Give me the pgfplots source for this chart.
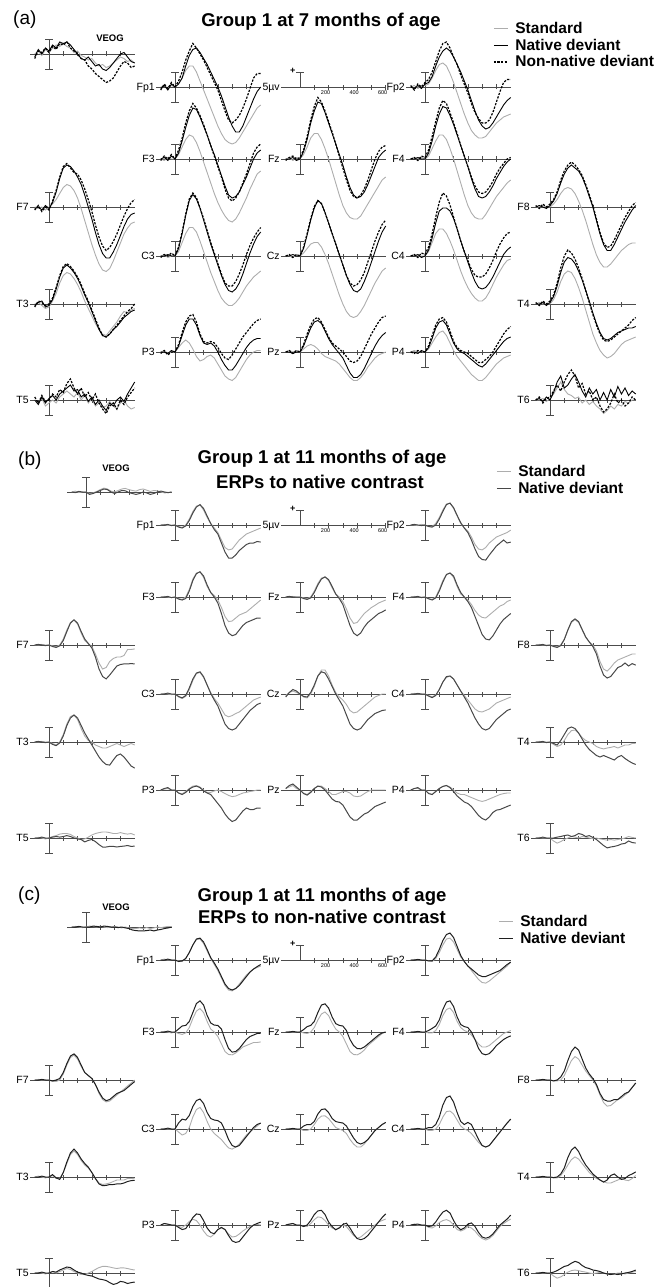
\documentclass[border=0pt]{standalone}
\usepackage{fontspec}
\setmainfont{Liberation Sans}
\usepackage{pgfplots}
\pgfplotsset{compat=1.18}
\usepackage{pgfplotstable}

\definecolor{axcol}{gray}{0.3}
\definecolor{stdcol}{gray}{0.68}
\definecolor{natb}{gray}{0.28}
\definecolor{natc}{gray}{0.12}

\newcommand{\elfont}{\fontsize{10.5}{12}\selectfont}
\newcommand{\legfont}{\fontsize{15.5}{17}\selectfont\bfseries}
\newcommand{\ttlfont}{\fontsize{18.5}{21}\selectfont\bfseries}

\pgfplotsset{
 erp/.style={scale only axis, x=0.142857pt, y=3pt, xmin=-130, xmax=600, ymin=-5, ymax=5,
   enlargelimits=false, axis x line=middle, axis y line=none, ytick=\empty,
   axis line style={-}, x axis line style={-, axcol, line width=0.8pt},
   xtick={100,200,300,400,500}, xticklabels={}, major tick length=5pt, tick align=center,
   tick style={axcol, line width=0.7pt}, clip=false, anchor=south west, no markers},
 legend image code/.code={\draw[#1] (0pt,0pt) -- (14pt,0pt); \path (19pt,0pt);},
}
\tikzset{lab/.style={anchor=base east, font=\elfont, inner sep=1.5pt, yshift=-3.7pt}}

\newcommand{\mktab}[2]{%
 \pgfplotstableread[row sep=\\]{name c0 c1 c2 c3 c4 c5 c6 c7 c8 c9 c10 c11 c12 c13 c14 c15 c16 c17 c18 c19 c20 c21 c22 c23 c24 c25 c26 c27 c28\\
 t -100 -75 -50 -25 0 25 50 75 100 125 150 175 200 225 250 275 300 325 350 375 400 425 450 475 500 525 550 575 600\\
 #2\\}\tmpraw
 \pgfplotstabletranspose[colnames from=name]{#1}{\tmpraw}}

\newcommand{\scalebar}{%
 \addplot[axcol, line width=0.8pt, forget plot] coordinates {(0,-5) (0,5)};
 \addplot[axcol, line width=0.8pt, forget plot] coordinates {(-25,5) (25,5)};
 \addplot[axcol, line width=0.8pt, forget plot] coordinates {(-25,-5) (25,-5)};}

\newcommand{\erpA}[4]{%
 \begin{axis}[erp, at={({#1pt-18.5714pt},{-#2pt-15pt})}]
 \scalebar
 \addplot[stdcol, line width=0.9pt] table[x=t,y=s]{#4};
 \addplot[black, line width=0.9pt] table[x=t,y=n]{#4};
 \addplot[black, line width=1.2pt, dash pattern=on 2.2pt off 1.4pt] table[x=t,y=d]{#4};
 \node[lab] at (axis cs:-130,0) {#3};
 \end{axis}}

\newcommand{\erpB}[5]{%
 \begin{axis}[erp, at={({#1pt-18.5714pt},{-#2pt-15pt})}]
 \scalebar
 \addplot[stdcol, line width=0.9pt] table[x=t,y=s]{#4};
 \addplot[#5, line width=1pt] table[x=t,y=n]{#4};
 \node[lab] at (axis cs:-130,0) {#3};
 \end{axis}}

\newcommand{\calib}[2]{%
 \begin{axis}[erp, at={({#1pt-18.5714pt},{-#2pt-15pt})}, xtick={100,200,300,400,500,600},
   xticklabels={,200,,400,,600}, xticklabel style={font=\fontsize{5.5}{6}\selectfont, inner sep=1pt, xshift=-3pt}]
 \addplot[axcol, line width=0.8pt] coordinates {(0,0) (0,5)};
 \addplot[axcol, line width=0.8pt] coordinates {(-25,5) (25,5)};
 \node[lab] at (axis cs:-130,0) {5µv};
 \node[font=\bfseries\fontsize{9}{9}\selectfont, inner sep=0pt] at (axis cs:-50,5.4) {+};
 \end{axis}}

% ---------------- panel (a) data: s = standard, n = native deviant, d = non-native deviant
\mktab{\tAVEOG}{s 0 1 -0.5 1.5 0.5 2 3 2.5 3.5 2.5 2 0.5 1 -0.5 -1 -2 -1.5 -3 -4 -3.5 -4.5 -4 -3 -2 -1 -1.5 -2.5 -2 -3\\
n -1 1.5 0 2 1 3 2 4 3.5 4 3 1.5 0 -1.5 -2 -1 -2.5 -4 -3.5 -5 -5.5 -4.5 -3 -1.5 0 0.5 -1 -2.5 -3\\
d -1.5 1 0.5 2 0.5 2.5 1.5 3.5 3 4 2 1 0 -1.5 -2 -4 -5 -6.5 -7.5 -8.5 -9.5 -9 -8 -6 -4 -2.5 -3 -4.5 -4}
\mktab{\tAFpone}{s 0 0.5 -0.5 0.5 0 1 3 5.5 7 7 5 2 -1 -4 -7 -10 -13 -15.5 -17.5 -18.5 -19 -18.5 -17 -15 -13 -11 -9 -7 -6\\
n -0.5 0.5 -1 1 0 1 3 7 10.5 12.5 13 11.5 9.5 7.5 5 2.5 0 -3 -6.5 -10 -13 -15 -15 -13 -10 -7 -4 -1.5 0\\
d -1 1 -0.5 1.5 0 2 5 9 12 14.5 13 11 9 6.5 4 1.5 -1 -4.5 -8 -11 -12 -11 -9.5 -7 -4 -0.5 3 4.5 4.5}
\mktab{\tAFptwo}{s 0 0.5 -0.5 0.5 0.5 1 3 5.5 7.5 8 7 4.5 1.5 -2 -5.5 -9 -12 -14.5 -16 -17 -17 -16.5 -15 -13.5 -12 -11 -10 -9.5 -9\\
n 0 -0.5 0.5 -0.5 1 1.5 3.5 7 10 12 13 12 10 7.5 5 2 -1 -4.5 -8 -11 -13 -14 -13.5 -12 -10 -8 -6 -4.5 -3.5\\
d 0.5 -1 1 0 1.5 2.5 5 8.5 12 14.5 15 13 10 7.5 4 1 -2 -5.5 -8.5 -10.5 -12 -12 -11 -8.5 -5 -1.5 1.5 2.5 2.5}
\mktab{\tAFthree}{s 0 -0.5 0.5 0 0 1.5 4 6.5 8 7.5 5.5 2.5 -1 -4.5 -8 -11.5 -14.5 -17 -19 -20.5 -21 -20 -18 -15.5 -13 -10 -7.5 -5 -4\\
n 0 0.5 -0.5 1 0 2 6 10.5 14.5 17 16.5 14 11 8 4.5 1.5 -2 -5.5 -9 -12 -13 -12.5 -11 -8.5 -6 -3 0 2 3\\
d -0.5 1 0 1.5 0 3 7 12 16 18.5 17 14.5 11.5 8 4.5 1 -2.5 -6 -10 -13 -14 -13 -11 -8 -5 -1.5 2 4 5}
\mktab{\tAFz}{s 0 0.5 -0.5 0.5 0 1.5 4 7 8.5 8.5 6.5 3.5 0 -4 -8 -12 -15.5 -18 -19.5 -20 -20 -19 -17 -15 -13 -11 -9 -7 -6\\
n 0 0 0.5 -0.5 0 2.5 6.5 12 16 19 18.5 15.5 12 8.5 5 1.5 -2 -6 -9.5 -12 -13 -12.5 -11 -8.5 -5.5 -2.5 0.5 2 3\\
d -0.5 0.5 1 0 0.5 3 7.5 13 17.5 20.5 19 16 12.5 9 5 1 -3 -7 -10.5 -12.5 -13 -12 -10 -7 -3.5 0 2.5 4 4.5}
\mktab{\tAFfour}{s 0 0.5 0 0.5 0 1 3.5 6 8 8 6.5 3.5 0 -4 -8 -12 -15.5 -18 -19.5 -20 -20 -18.5 -16.5 -14.5 -12.5 -11 -9.5 -8 -7\\
n 0 0 0.5 0 0 2 6 11 15 17.5 17 14.5 11.5 8 4.5 1 -2.5 -6.5 -10 -12.5 -13 -12.5 -11 -9 -6.5 -4.5 -2.5 -1 0\\
d 0 0.5 -0.5 1 0.5 3 7.5 12.5 17 19.5 18.5 15.5 12 8.5 4.5 1 -2.5 -6 -9 -11 -11.5 -11 -9.5 -7.5 -5 -3 -1.5 0 0.5}
\mktab{\tAFseven}{s 0 -0.5 0 -1 0 1 2.5 4.5 6.5 7.5 7 5.5 3 -0.5 -4.5 -8.5 -12.5 -16 -19 -21 -21.5 -20.5 -18 -15 -12 -9 -7 -5.5 -5\\
n -0.5 0 -1 0.5 -0.5 1.5 5 9.5 13 14 13.5 12 10 7.5 4 0 -4 -8.5 -12.5 -15.5 -17 -17 -15 -12.5 -9.5 -6.5 -4 -2.5 -2\\
d -1 0.5 -1.5 0 -1 2 5.5 10 13.5 14.5 13 11.5 11 9 6 2.5 -1.5 -6 -10 -13 -14.5 -13.5 -11.5 -9 -6 -3 -0.5 1.5 2.5}
\mktab{\tAFeight}{s 0 0 0.5 0 0 1 2.5 4.5 6 6.5 6 4.5 2 -1 -4.5 -8.5 -12.5 -16 -18.5 -20 -20 -19 -17.5 -16 -14.5 -13.5 -12.5 -12 -12\\
n 0 0.5 0 -0.5 0.5 2 4.5 8 11 13 14 13 12 10 7 3.5 0 -4.5 -9 -12.5 -14.5 -14.5 -12.5 -10 -7.5 -5 -3 -1 0.5\\
d 0.5 -0.5 1 0 1 2.5 5 9 12 14 15 14 12.5 10.5 7.5 4 0.5 -4 -8.5 -12 -13.5 -13 -11 -8.5 -6 -3.5 -1.5 0.5 1.5}
\mktab{\tACthree}{s 0 0.5 -0.5 0 0 1.5 4.5 7.5 9.5 9.5 8 5 1.5 -2 -5.5 -8.5 -11.5 -14 -15.5 -16.5 -16.5 -15.5 -14 -12 -10 -8.5 -7 -6 -5\\
n 0 0 0.5 0 0 2.5 7.5 13.5 18.5 20.5 19 16 12 8 4 0.5 -3 -6.5 -9.5 -11.5 -12 -11 -9 -6 -2.5 1 4 6.5 8\\
d -0.5 0.5 0 1 0 3 8 14 19 21 19.5 16 12.5 8.5 4.5 1 -2.5 -6 -9 -10 -10 -8.5 -6 -3 0.5 3.5 6 8 9.5}
\mktab{\tACz}{s 0 0 -0.5 0.5 0 1 2.5 4 4.5 4.5 3 0.5 -2.5 -6 -9.5 -13 -16 -18.5 -20 -20.5 -20 -18.5 -16.5 -14 -11.5 -9 -7 -5 -4\\
n 0 0 0.5 0 0 2.5 7 12 16 18.5 17.5 14.5 11 7.5 4 0.5 -3 -6.5 -9.5 -11.5 -12 -11 -8.5 -5.5 -2 1.5 5 8 10\\
d 0 0.5 -0.5 0.5 0 3 7.5 12.5 16.5 18.5 17.5 14.5 11 7.5 4 0.5 -3 -6.5 -9 -10 -9.5 -8 -5.5 -2 1.5 5 8 10.5 12}
\mktab{\tACfour}{s 0 0.5 0 0 0 1.5 4.5 7.5 9 9 7.5 5 2 -1.5 -5 -8 -10.5 -12.5 -14 -15 -15 -14 -12 -9.5 -7 -5 -3 -1.5 -1\\
n 0 0 0.5 -0.5 0 2 6 11 15 16 16 15 12.5 9 5 1.5 -2 -5.5 -8.5 -10.5 -11 -10.5 -9 -7 -4.5 -2 0.5 2 3\\
d 0 0.5 -0.5 1 0.5 3 7.5 13 18 21 20 17 13 9 5 1.5 -1.5 -4.5 -6.5 -7 -7 -6 -4 -1.5 1.5 4 6 7.5 8}
\mktab{\tATthree}{s 0 0.5 -0.5 -1.5 -1 1 3.5 7 9.5 10.5 10 8.5 6.5 4 1 -1.5 -4 -6.5 -8.5 -10 -10.5 -9 -7.5 -6 -4 -2.5 -3 -2 -1.5\\
n -0.5 0.5 1 -1 -0.5 1.5 5 9 12 13 12 10.5 8.5 6 3 0.5 -2.5 -5.5 -8.5 -10.5 -11 -10 -8.5 -7.5 -6 -4.5 -3.5 -2.5 -2\\
d -1 1 0.5 -0.5 0 2 5.5 9.5 12.5 13.5 12.5 11 9 6.5 3.5 1 -2 -5 -8 -10.5 -11 -10 -8.5 -7 -5.5 -4 -2.5 -1.5 0}
\mktab{\tATfour}{s 0 0.5 0 0 0 1.5 4 7.5 10 11 10.5 8.5 5.5 2 -2 -6 -10 -13 -15.5 -17 -18 -17.5 -16.5 -15 -13.5 -12.5 -12 -11.5 -11\\
n 0 0 0.5 -0.5 0.5 2.5 6 10.5 14 15.5 15 13.5 11 8 4.5 1 -3 -6.5 -9.5 -11.5 -12 -11.5 -10.5 -9.5 -9 -8.5 -8 -8 -7.5\\
d 0.5 -0.5 1 0 1 3 7 12 16 18 17 15 12 8.5 4.5 0.5 -3.5 -7 -10 -12 -12.5 -12 -11 -10 -9 -8 -7 -5.5 -4.5}
\mktab{\tAPthree}{s 0 0.5 -0.5 0 0 1.5 3 4 3 1 -1.5 -3 -2.5 -1.5 -1 -2 -4 -6 -8 -9 -9.5 -8.5 -6.5 -4.5 -2.5 -1 0 0.5 0.5\\
n 0 0 -0.5 0.5 0 2 5.5 9 11 11 9 5.5 3 2.5 3 2 0 -2.5 -4.5 -6 -6 -4.5 -2.5 -0.5 1.5 3 4 4.5 4.5\\
d -0.5 0.5 -1 0 0 2.5 6.5 10 12 12.5 10 6 3.5 3 3.5 3 1.5 -0.5 -2 -2.5 -1 1 3 5 6.5 8 9.5 10.5 11}
\mktab{\tAPz}{s 0 0.5 0 0.5 0 1 2 2.5 2 1 -0.5 -1.5 -2 -2.5 -3 -4 -5.5 -7 -8.5 -9.5 -9.5 -8.5 -7 -5 -3.5 -2 -1 -0.5 0\\
n 0 0 -0.5 0 0 2 5 8 10 10.5 9.5 7 4.5 2.5 1 -0.5 -2 -4.5 -7 -8.5 -8.5 -7.5 -5.5 -3 -0.5 2 4 5.5 6.5\\
d 0 0.5 -0.5 0.5 0 2.5 6 9 11 11.5 10 7.5 5 3 2 1 0 -1.5 -3 -3.5 -3 -1.5 1 3.5 6 8 10 11.5 12}
\mktab{\tAPfour}{s 0 0.5 0 0 0 1 3 5 6.5 7 5.5 3 0.5 -1.5 -3 -4.5 -6 -7.5 -8.5 -9.5 -9.5 -8.5 -7 -5.5 -4 -3 -2 -1.5 -1\\
n 0 0 -0.5 0.5 0 1.5 4.5 8 10 10.5 9 6 3 1 0 -0.5 -1.5 -2.5 -3.5 -4.5 -5 -4 -2.5 -1 0.5 2 3.5 4.5 5\\
d 0 -0.5 0.5 0 0 2 5.5 9 11 11.5 10 7 3.5 1.5 0.5 0 -0.5 -1.5 -2.5 -3.5 -3.5 -2.5 -1.5 0 2 4 6 7.5 8.5}
\mktab{\tATfive}{s 0 -1 0.5 -2 -1 0 -1 1 2 3 2 1 2.5 0 1.5 -1 0.5 -2 -1 -2.5 -2 -0.5 -2 -3 -1 0 -2 -3 -2.5\\
n 0 -1.5 1 -1 0.5 1.5 0 2 3 4 5 3 3.5 1 2 -0.5 1 -1.5 0 -2 -3.5 -1 -2 0 1 -0.5 2 4 6\\
d 1 -1 1.5 -0.5 0 2 1 3.5 2.5 5.5 7 4 2 4 1 2.5 0 2 -1 -3 -4.5 -2 -1 -3 0 -1.5 1 2.5 4}
\mktab{\tATsix}{s 0 0 0.5 -0.5 0.5 2 4 6 3.5 2 1.5 0.5 1 -1 0 -1.5 -0.5 -2 -3 -4.5 -3.5 -2 -3 -1.5 -2 -0.5 -1 0 0\\
n 0 0.5 -0.5 1 0 2.5 6 8 4 5 7 8.5 6 3 1 4 2 3.5 0 2.5 0 3.5 1 4.5 2 4 1.5 3 2\\
d 0 1 -1 0.5 1 3 5 3 6 8.5 10 8 4 5.5 2 3 0 1 -2 -4 -3 -1 2 -1 0 -2 -1 1 0}

% ---------------- panel (b) data
\mktab{\tBVEOG}{s 0 0.3 -0.2 0 0 -0.5 -0.3 0.2 0.8 1.3 1 0.3 0 0.5 1 1.2 0.8 0.5 0.3 0.8 1 0.6 0.2 0.5 0.4 0 -0.3 -0.2 0\\
n 0 -0.2 0.2 0 0 -0.8 -0.5 0 0.5 1 0.8 0 -0.5 0 0.5 0.4 -0.2 -0.5 -0.8 -0.5 0 -0.3 -0.8 -0.5 0 0.3 0 -0.2 0}
\mktab{\tBFpone}{s 0 0.2 -0.2 0 0 -0.5 -0.8 0 2 4.5 6.3 6.7 5 2.5 0.5 -1 -2.5 -5 -7.5 -8.3 -8 -6.5 -5 -4 -3 -2.5 -2 -1.5 -1\\
n 0 0 0.2 -0.2 0 -0.7 -1 -0.3 1.5 4 6 6.8 5.5 3 0.5 -1.5 -3 -6 -9 -11 -11 -10 -8.5 -7.5 -6.5 -6 -6 -5.5 -5.7}
\mktab{\tBFptwo}{s 0 0 -0.2 0.2 0 -0.5 -0.5 0.5 2.5 5 7 7.3 5.5 3 0.5 -1 -2 -4 -6.5 -8 -8.3 -7.5 -6 -5 -4 -3.5 -3 -2.5 -1.7\\
n 0 0.2 0 -0.2 0 -0.5 -0.7 0 2 4.5 6.8 7.3 5.8 3.2 0.8 -1 -2.5 -5 -8 -10.5 -11.5 -11.7 -10 -8.5 -7 -6 -5 -6 -5.7}
\mktab{\tBFthree}{s 0 0.2 0 -0.2 0 -0.5 -0.8 0 2.5 6 8 8.4 6.5 3.5 1.5 0.5 -1 -3.5 -6.5 -8.2 -8 -7 -6 -5.5 -5 -4 -3 -2 -1\\
n 0 0 0.2 -0.2 0 -0.7 -1 -0.5 2 5.5 7.8 8.4 7 4 1.5 0 -2 -5.5 -9.5 -12 -12.9 -12.5 -11 -9.5 -8.5 -8 -7.5 -7 -7}
\mktab{\tBFz}{s 0 0 0.2 0 0 -0.3 -0.6 0 2 4.5 6.3 6.7 5.5 3 1 0 -1.5 -4 -7 -8.8 -8.5 -7 -5.5 -4.5 -3.5 -2.8 -2 -1.5 -1\\
n 0 0.2 0 0 0 -0.5 -0.8 -0.3 1.5 4 6 6.7 5.8 3.5 1 -0.5 -2.5 -6 -9.5 -12 -12.9 -12 -10 -8.5 -7.5 -6.5 -5.5 -5 -4.3}
\mktab{\tBFfour}{s 0 0.2 0 0 0 -0.5 -0.8 0 2.5 5.5 7.5 8 6.5 3.5 1 0 -1 -2.5 -4.5 -6 -6.8 -7 -6 -5 -4 -3 -2.5 -1.5 -1\\
n 0 0 0.2 -0.2 0 -0.6 -1 -0.3 2 5 7.5 8 7 4 1.5 0 -1.5 -3.5 -6.5 -9.5 -12.5 -14 -14.3 -13 -11 -9 -7.5 -6.5 -5.5}
\mktab{\tBFseven}{s 0 0 0.2 0 0 -0.3 -0.6 0 2 5 7.5 8.3 7 4 1.5 0.5 -0.5 -3 -6 -8 -7.5 -5.5 -4.5 -4 -4 -3.5 -1.5 -1.5 -1.3\\
n 0 0.2 0 -0.2 0 -0.5 -0.8 -0.3 1.5 4.5 7.3 8.4 7.3 4.5 2 0.5 -1 -4 -8 -10.5 -11.3 -10 -8.5 -7 -6.5 -6.3 -6.3 -6.2 -6.3}
\mktab{\tBFeight}{s 0 0.2 0 0 0 -0.4 -0.6 0 2 5 7.5 8.5 7.5 5 2.5 1 0 -2 -5.5 -8 -8.7 -7.5 -6 -5 -4.5 -4 -3.5 -3 -3\\
n 0 0 0.2 -0.2 0 -0.5 -0.8 -0.2 1.8 5 7.8 8.7 7.8 5.2 2.7 1 -0.5 -3 -7 -10 -11 -10.5 -9 -7.5 -7 -6 -7 -6.2 -6.7}
\mktab{\tBCthree}{s 0 0.2 0 -0.2 0 -1 -1.5 -0.8 1.5 4.5 6.8 7.2 5.5 3 0.5 -1.5 -3 -5 -7 -7.6 -7.2 -6.5 -6 -5 -4 -3 -2 -1.5 -1\\
n 0 0 0.3 0 0 -0.8 -1.3 -0.5 2 5 7 7.4 5.8 3 0.2 -2 -4 -7 -10 -11.5 -12 -11.5 -10 -8.5 -7 -5.5 -4.5 -3.5 -3}
\mktab{\tBCz}{s -0.5 0.5 1 0.5 0 -1 -1.3 0 2.5 6 8 8 6 3 0.5 -1 -2 -3.5 -5.5 -6.3 -6 -5 -4 -3 -2 -1 -0.5 0 0\\
n -1 0.5 1.5 1 0 -0.8 -1 0.5 3 6 7.4 7 5 2.5 0 -2 -4 -7 -10 -11.5 -12 -11.5 -10 -8.5 -7.5 -6.5 -6 -5.5 -5.3}
\mktab{\tBCfour}{s 0 0.2 0 0 0 -0.5 -1 -0.3 1.5 4 5.5 6 5 3 1 -0.5 -2 -3.5 -5 -5.8 -6 -5.5 -5 -4 -3 -2.5 -2 -1.5 -1\\
n 0 0 0.2 0 0 -0.7 -1.2 -0.5 1.5 4 5.8 6 5 3 1 -1 -3 -5.5 -8 -10 -11.5 -12 -11.5 -10 -8.5 -7.5 -6.5 -5.5 -5}
\mktab{\tBTthree}{s 0 0 0.2 0 0 -0.5 -1 0 2.5 6 8.5 9 7.5 4.5 2 0.5 0 -1 -1.5 -2 -2 -1.5 -1 -0.5 -1 -1.5 -1 -0.5 -1\\
n 0 0.2 0 -0.2 0 -0.8 -1.2 -0.3 2 5.5 8 9 8 5.5 3 1 -1 -3 -5 -6.5 -7.5 -7.7 -6 -4.5 -4 -5 -6.5 -8 -8.7}
\mktab{\tBTfour}{s 0 0.2 0 0 0 -0.8 -1.5 -1 0.5 2.5 3.8 4 3 1.5 0.5 0 -0.5 -1.5 -2 -2.3 -2 -1.8 -1.5 -2 -1.5 -1 -1 -0.5 -0.5\\
n 0 0 0.2 -0.2 0 -0.5 -1 0.5 2.5 4.5 5 4.5 3 1 -1 -2.5 -3.5 -4.5 -5 -4.5 -5 -5.5 -6 -5 -4.5 -5.5 -6.3 -7 -7.5}
\mktab{\tBPthree}{s 0 0.3 0.5 0 0 -1 -1.3 -0.5 0.5 1.3 1.5 1 0 -0.8 -0.8 -0.3 0 -0.5 -1.2 -1.8 -2.2 -2 -1.5 -1 -0.8 -0.5 -0.3 0 0\\
n 0 0.5 0.8 0 0 -1 -1.5 -0.8 0.3 1 1.3 0.8 -0.3 -1 -1.5 -3 -4.5 -6 -8 -9.5 -10.5 -10 -8.5 -7 -6 -6.5 -6.5 -6 -6}
\mktab{\tBPz}{s 0.5 1 1.5 0.5 0 -1 -1.5 -0.5 0.5 1.3 1.3 0.5 -0.5 -1.5 -1.5 -1 -0.5 -0.5 -1 -2 -2.2 -2 -1.2 -0.5 0 0 0 0 0\\
n 0.5 1.5 2 1 0 -1.2 -1.7 -0.8 0.5 1.3 1 0 -1.5 -3 -3.8 -4 -5 -7 -9 -10 -10 -9 -8 -7.5 -6.5 -5.5 -5 -4.5 -4}
\mktab{\tBPfour}{s 0 0.5 0.5 0 0 -1 -1.5 -0.5 0.5 1.2 1.5 1 0 -1 -1.5 -1.5 -2 -2.5 -3 -3.5 -3.8 -3.5 -3 -2.5 -2 -1.5 -1.2 -1 -1\\
n 0 0.5 0.8 0 0 -1.2 -1.5 -0.5 0.5 1.2 1.5 0.8 -0.5 -2 -3 -4 -4.5 -5.5 -7 -8.5 -9.5 -10 -9 -7.5 -6.7 -6.5 -6 -5.5 -5}
\mktab{\tBTfive}{s 0 0.2 0 -0.3 0 0.5 0.8 1.3 1.5 1.5 1.2 0.5 0 -0.5 -0.3 0.3 1 1.5 1.8 2 2 1.8 1.5 1.5 1.8 1.5 1.3 1.5 1\\
n 0 0 0.3 0 0 0.3 0.5 0.3 0.5 0.8 0.5 0 -0.3 -0.5 -1.3 -0.8 -0.5 -1.2 -2.2 -3 -3 -2.8 -2.8 -3 -2.8 -2.7 -2.5 -2.8 -2.7}
\mktab{\tBTsix}{s 0 0.2 0 0 0 -1 -1.7 -1.2 -0.5 0 0.5 0.3 0 0.5 0.3 0 -0.2 0 -0.3 -0.5 -0.7 -0.5 -0.7 -0.5 -0.3 0 0.5 0.2 0\\
n 0 0 0.3 0 0 0 0.3 0.5 0.8 1 0.5 0.8 1.5 1.2 0.5 0.8 0.2 -0.5 -1.5 -2.5 -3.3 -3 -2.8 -2.5 -2 -1.8 -1 -1.5 -1.7}

% ---------------- panel (c) data
\mktab{\tCVEOG}{s 0 0.2 0 -0.2 0 0.3 0.2 0 0.3 0 -0.2 0 0.2 0 -0.3 0 -0.3 -0.5 -0.5 -0.3 -0.5 -0.2 -0.5 -0.3 0 -0.2 0 0.2 0\\
n 0 0 0.2 0 0 0 0.3 0.2 0 0.3 0.2 0 0 -0.2 0 -0.3 -0.5 -1 -1.2 -1.3 -1.3 -1.2 -1 -1.3 -1 -0.8 -0.5 -0.3 0}
\mktab{\tCFpone}{s 0 0.3 0 0 0 -0.3 -0.5 0.5 2.5 5 6.8 7 5.5 3 0.5 -1.5 -3.5 -6 -8.5 -10 -10.3 -9.5 -8 -6.5 -5 -4 -3 -2.5 -2\\
n 0 0 0.3 0 0 -0.5 -0.3 0.5 2.5 5 7 7.3 6 3.5 0.8 -1 -3 -5.5 -8 -9.5 -10 -9.5 -8.5 -7 -5.5 -4 -3 -2.2 -1.5}
\mktab{\tCFptwo}{s 0 0.2 0 0 0 -0.3 -0.5 0.5 2.5 5 7 7.3 6 3.5 1 -0.5 -2 -3.5 -5 -6.5 -7.5 -7.7 -7 -6 -5 -4 -3 -2 -0.7\\
n 0 0 0.2 0 0 -0.3 -0.3 1 3.5 6.5 8.5 9 7.5 4.5 1.5 -0.5 -2 -3 -4 -5 -5.5 -5.5 -5 -4.5 -4 -3.5 -2.5 -1.5 -0.7}
\mktab{\tCFthree}{s 0 0.2 0 -0.3 0 -0.5 -0.8 -0.3 1.5 4.5 7 7.8 6.5 3.5 1 0 -1.5 -4 -6.5 -7.5 -7.6 -7 -6 -5 -4.5 -4 -3.5 -3.5 -3.3\\
n 0 0 0.3 0 0 1 2 2.2 3.5 6.5 9.5 10.4 9 5.5 3 2.3 2.2 1 -2.5 -5.5 -6.7 -6.5 -5.5 -4 -2.5 -1.5 -1 -0.5 -0.4}
\mktab{\tCFz}{s 0 0.2 0 0 0 -0.3 -0.5 0 1.5 4 6 6.7 5.5 3 1 0 -1.5 -4 -6.5 -7.5 -7.6 -7 -6 -4.5 -3.5 -2.5 -1.5 -0.5 0\\
n 0 0 0.2 0 0 0.8 1.8 2.2 3.5 6.5 9 9.4 8 5 2.8 2.2 2 0.5 -2.5 -4.5 -5.5 -5.6 -5 -4 -3 -2 -1 -0.3 0}
\mktab{\tCFfour}{s 0 0.2 0 0 0 -0.3 -0.3 0.5 2.5 5.5 7.5 8 6.5 3.5 1.5 0.5 0 -1 -2.5 -4 -5 -5 -4.5 -3.5 -2.5 -1.5 -0.5 0 0.5\\
n 0 0 0.2 0 0 0.5 1.2 2 4 7.5 10 10.4 8.5 5 2.5 1.8 1.5 0 -2.5 -5.5 -7.2 -7.6 -7.2 -6 -4.5 -3.5 -2.5 -1.8 -1.3}
\mktab{\tCFseven}{s 0 0.2 0 0 0 -0.5 -0.5 0 2 5 7.5 8.3 7 4.5 2.5 1.5 0.5 -1.5 -4.5 -6.5 -7.3 -7 -6 -5 -4 -3 -2 -1 0\\
n 0 0 0.2 0 0 -0.3 0 0.5 2.5 5.5 8 8.7 7.5 5 2.5 1.5 0.5 -1.5 -4 -6 -6.9 -6.5 -5.5 -4.5 -4 -3.5 -2.5 -1.5 -0.5}
\mktab{\tCFeight}{s 0 0.2 0 0 0 -0.3 -0.3 0 1.5 4 6.5 7.8 7 5 3 1.5 0 -2 -5 -7.5 -8.7 -8.5 -7.5 -6.5 -6 -5 -4 -2.5 -1\\
n 0 0 0.2 0 0 -0.3 0 1 3 6.5 9.5 11 10 7 4 2 0.5 -1.5 -4.5 -6.5 -7 -7 -6.5 -6.5 -5.5 -4.5 -4 -2.5 -1}
\mktab{\tCCthree}{s 0 0.2 0 0 0 -1 -2 -1.5 0.5 4 6.5 7.2 5.5 2.5 0 -1.5 -2.5 -3.5 -5 -6.3 -6.7 -6 -5 -3.5 -2 -1 0 1 2\\
n 0 0 0.3 0 0 2 3.3 3 4.5 7.5 9.5 10 8.5 5.5 3.5 3 2.8 2 -0.5 -3.5 -5.5 -6 -5.5 -4 -2.5 -1 0.5 1.5 2}
\mktab{\tCCz}{s 0 0.2 0 0 0 -0.5 -0.5 0 1.5 3.3 4.3 4.4 3.5 2 0.5 0 -0.5 -1.5 -3.5 -5 -6 -6 -5 -3.5 -2 -0.5 0.5 1.5 2.2\\
n 0 0 0.2 0 0 1 1.5 1.5 2.5 5 6.5 6.7 5.5 3.5 2.5 2.2 2 1 -1 -3 -4.5 -5 -4.5 -3.5 -2 -0.5 0.5 1.5 2.2}
\mktab{\tCCfour}{s 0 0.2 0 0 0 -0.5 -0.5 0 1.5 4 5.8 6 5 3 1 0 -0.5 -1.5 -3 -4.5 -5.5 -6 -5.5 -4 -2.5 -1 0.5 2 3.3\\
n 0 0 0.2 0 0 0.5 0.5 1.5 4 8 10.5 11 9 5.5 2.5 1.5 2.2 1.5 -1 -3.5 -5.5 -6 -5.5 -4 -2.5 -1 0.5 2 3.3}
\mktab{\tCTthree}{s 0 0.3 0 -0.3 0 0.5 -0.5 -0.5 1.5 4.5 7.5 8.7 7.5 5.5 4 3 1.5 -0.5 -2 -2.5 -2.3 -2 -1.5 -1 -1 -1 -0.5 -0.5 -0.4\\
n 0 0 0.3 0 0 0.8 -0.3 -0.8 1.5 5 8 9.3 8 6 4.5 3.3 1.5 -0.5 -2.3 -2.9 -2.8 -2.5 -2.5 -2.3 -2.3 -2 -1.5 -1.2 -1.1}
\mktab{\tCTfour}{s 0 0.2 0 0 0 -0.3 -0.3 0.5 2 4 5.8 6.7 6 4.5 3 1.5 0.5 -0.5 -1 -1.5 -2 -2 -1.5 -1 -0.5 -1 -1.2 -0.5 0.5\\
n 0 0 0.2 0 0 -0.2 0 1 3 6.5 9 10 8.5 6 4 2.5 1 0 -1 -1.7 -1 0.5 1 0 -0.8 -0.5 0.5 1 1.7}
\mktab{\tCPthree}{s 0 0.5 0.2 0 0 -0.5 -0.8 0 1.2 1.9 1.5 0 -2 -3.5 -4 -3 -1.5 -1 -1.5 -3 -4 -3.8 -3 -2 -1.2 -0.5 0 0.2 0\\
n 0 0.5 0.3 0 0 -0.8 -1.5 -1.2 0.5 2.5 3.7 3.5 1.5 -1 -2.5 -2.9 -1.5 -0.8 -1.5 -3.5 -5.3 -5.8 -5.5 -4 -2.5 -1 0 0.5 1}
\mktab{\tCPz}{s 0 0.2 0.5 0 0 -0.5 -0.5 0.5 1.8 2.7 2.5 1.5 0 -1 -1.5 -0.8 0 -0.5 -2 -3.5 -4.4 -4 -3 -2 -1 0 1 1.5 2\\
n 0 0.3 0.5 0 0 -0.5 0 1.5 3.5 4.7 4.9 3.5 1 -0.5 -1.6 -1 0.2 0.6 -1 -3 -4.5 -4.9 -4.5 -3.5 -2 -0.5 1 2.5 3.7}
\mktab{\tCPfour}{s 0 0.3 0 0 0 -0.8 -1 -0.3 0.8 1.5 1.8 1.3 0 -1.5 -2 -1.5 -0.5 -1 -2 -3.5 -4.5 -5 -4.5 -3.5 -2 -0.5 0.5 1.3 2\\
n 0 0.2 0.3 0 0 -0.5 -0.3 1 2.8 4.3 4.9 4 1.5 -0.5 -1.6 -1 0.3 0.7 -0.5 -2.5 -4 -4.4 -4 -3 -1.5 0 1 2 3.3}
\mktab{\tCTfive}{s 0 0.2 0 -0.3 0 0.5 0 0.5 1 1.5 1.2 0.5 0 -0.5 -0.5 0 0.5 1.2 1.8 2.2 2.2 2 1.7 1.5 1.7 1.7 1.5 1.2 1\\
n 0 0 0.3 0 0 0.5 0.3 1 1.5 2 1.8 1 0.3 0 -0.5 -0.8 -1 -1.5 -2 -2.2 -2.5 -3.2 -3.8 -3.5 -2.8 -3 -3.5 -3.2 -3}
\mktab{\tCTsix}{s 0 0.2 0 0 0 -1 -1.7 -1.3 -0.5 0.3 0.8 1 0.8 0.5 0.3 0 -0.2 0 0.2 0 -0.3 -0.5 -0.3 0 0 -0.3 0 0.3 0.5\\
n 0 0 0.2 0 0 0.3 0.8 1.5 2.2 2.5 3.3 3.9 3.5 2.5 1.8 1.5 1 0.8 0.5 0 -0.3 -0.5 -0.3 -0.5 -0.3 0 0.2 0.5 1}

\begin{document}
\begin{tikzpicture}[x=1pt,y=1pt]
\useasboundingbox (0,0) rectangle (667,-1287);

% ================= panel (a)
\node[anchor=base west, font=\fontsize{19}{19}\selectfont, inner sep=0pt] at (13,-25) {(a)};
\node[anchor=base, font=\ttlfont, inner sep=0pt] at (321,-26.5) {Group 1 at 7 months of age};
\node[anchor=base, font=\bfseries\fontsize{9.5}{10}\selectfont, inner sep=0pt] at (110,-41.5) {VEOG};
\begin{axis}[hide axis, scale only axis, width=10pt, height=10pt, xmin=0, xmax=1, ymin=0, ymax=1,
  at={(493pt,-20pt)}, anchor=north west,
  legend style={at={(0,1)}, anchor=north west, draw=none, fill=none, inner sep=0pt, row sep=0pt, font=\legfont},
  legend cell align=left]
\addlegendimage{stdcol, line width=1pt}\addlegendentry{Standard}
\addlegendimage{black, line width=1.1pt}\addlegendentry{Native deviant}
\addlegendimage{black, line width=1.2pt, dash pattern=on 2.2pt off 1.4pt}\addlegendentry{Non-native deviant}
\end{axis}
\erpA{49}{54}{}{\tAVEOG}
\erpA{175}{87}{Fp1}{\tAFpone}
\calib{300}{87}
\erpA{425}{87}{Fp2}{\tAFptwo}
\erpA{175}{159}{F3}{\tAFthree}
\erpA{300}{159}{Fz}{\tAFz}
\erpA{425}{159}{F4}{\tAFfour}
\erpA{49}{207}{F7}{\tAFseven}
\erpA{550}{207}{F8}{\tAFeight}
\erpA{175}{256}{C3}{\tACthree}
\erpA{300}{256}{Cz}{\tACz}
\erpA{425}{256}{C4}{\tACfour}
\erpA{49}{304}{T3}{\tATthree}
\erpA{550}{304}{T4}{\tATfour}
\erpA{175}{352}{P3}{\tAPthree}
\erpA{300}{352}{Pz}{\tAPz}
\erpA{425}{352}{P4}{\tAPfour}
\erpA{49}{400}{T5}{\tATfive}
\erpA{550}{400}{T6}{\tATsix}

% ================= panel (b)
\node[anchor=base west, font=\fontsize{19}{19}\selectfont, inner sep=0pt] at (18,-465) {(b)};
\node[anchor=base, font=\ttlfont, inner sep=0pt] at (322,-463.5) {Group 1 at 11 months of age};
\node[anchor=base, font=\ttlfont, inner sep=0pt] at (320,-488.5) {ERPs to native contrast};
\node[anchor=base, font=\bfseries\fontsize{9.5}{10}\selectfont, inner sep=0pt] at (116,-471.5) {VEOG};
\begin{axis}[hide axis, scale only axis, width=10pt, height=10pt, xmin=0, xmax=1, ymin=0, ymax=1,
  at={(496pt,-463pt)}, anchor=north west,
  legend style={at={(0,1)}, anchor=north west, draw=none, fill=none, inner sep=0pt, row sep=0pt, font=\legfont},
  legend cell align=left]
\addlegendimage{stdcol, line width=1pt}\addlegendentry{Standard}
\addlegendimage{natb, line width=1.1pt}\addlegendentry{Native deviant}
\end{axis}
\erpB{86}{492}{}{\tBVEOG}{natb}
\erpB{175}{525}{Fp1}{\tBFpone}{natb}
\calib{300}{525}
\erpB{425}{525}{Fp2}{\tBFptwo}{natb}
\erpB{175}{597}{F3}{\tBFthree}{natb}
\erpB{300}{597}{Fz}{\tBFz}{natb}
\erpB{425}{597}{F4}{\tBFfour}{natb}
\erpB{49}{645}{F7}{\tBFseven}{natb}
\erpB{550}{645}{F8}{\tBFeight}{natb}
\erpB{175}{694}{C3}{\tBCthree}{natb}
\erpB{300}{694}{Cz}{\tBCz}{natb}
\erpB{425}{694}{C4}{\tBCfour}{natb}
\erpB{49}{742}{T3}{\tBTthree}{natb}
\erpB{550}{742}{T4}{\tBTfour}{natb}
\erpB{175}{790}{P3}{\tBPthree}{natb}
\erpB{300}{790}{Pz}{\tBPz}{natb}
\erpB{425}{790}{P4}{\tBPfour}{natb}
\erpB{49}{838}{T5}{\tBTfive}{natb}
\erpB{550}{838}{T6}{\tBTsix}{natb}

% ================= panel (c)
\node[anchor=base west, font=\fontsize{19}{19}\selectfont, inner sep=0pt] at (18,-900) {(c)};
\node[anchor=base, font=\ttlfont, inner sep=0pt] at (322,-901.5) {Group 1 at 11 months of age};
\node[anchor=base, font=\ttlfont, inner sep=0pt] at (322,-923.5) {ERPs to non-native contrast};
\node[anchor=base, font=\bfseries\fontsize{9.5}{10}\selectfont, inner sep=0pt] at (116,-910.5) {VEOG};
\begin{axis}[hide axis, scale only axis, width=10pt, height=10pt, xmin=0, xmax=1, ymin=0, ymax=1,
  at={(498pt,-913pt)}, anchor=north west,
  legend style={at={(0,1)}, anchor=north west, draw=none, fill=none, inner sep=0pt, row sep=0pt, font=\legfont},
  legend cell align=left]
\addlegendimage{stdcol, line width=1pt}\addlegendentry{Standard}
\addlegendimage{natc, line width=1.1pt}\addlegendentry{Native deviant}
\end{axis}
\erpB{86}{927}{}{\tCVEOG}{natc}
\erpB{175}{960}{Fp1}{\tCFpone}{natc}
\calib{300}{960}
\erpB{425}{960}{Fp2}{\tCFptwo}{natc}
\erpB{175}{1032}{F3}{\tCFthree}{natc}
\erpB{300}{1032}{Fz}{\tCFz}{natc}
\erpB{425}{1032}{F4}{\tCFfour}{natc}
\erpB{49}{1080}{F7}{\tCFseven}{natc}
\erpB{550}{1080}{F8}{\tCFeight}{natc}
\erpB{175}{1129}{C3}{\tCCthree}{natc}
\erpB{300}{1129}{Cz}{\tCCz}{natc}
\erpB{425}{1129}{C4}{\tCCfour}{natc}
\erpB{49}{1177}{T3}{\tCTthree}{natc}
\erpB{550}{1177}{T4}{\tCTfour}{natc}
\erpB{175}{1225}{P3}{\tCPthree}{natc}
\erpB{300}{1225}{Pz}{\tCPz}{natc}
\erpB{425}{1225}{P4}{\tCPfour}{natc}
\erpB{49}{1273}{T5}{\tCTfive}{natc}
\erpB{550}{1273}{T6}{\tCTsix}{natc}
\end{tikzpicture}
\end{document}
